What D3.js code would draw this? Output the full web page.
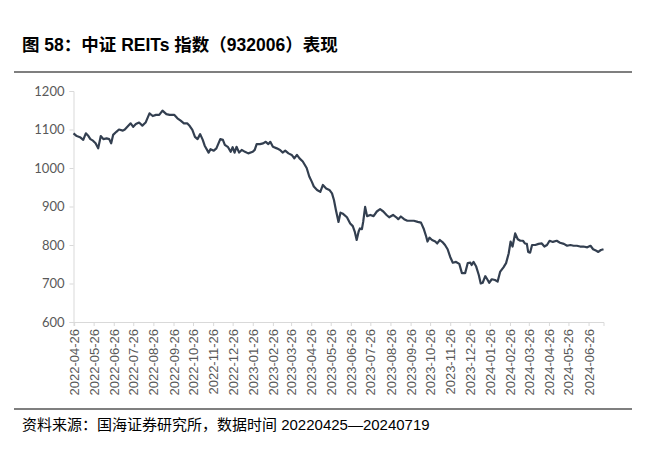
<!DOCTYPE html>
<html>
<head>
<meta charset="utf-8">
<script src="https://cdn.jsdelivr.net/npm/d3@7"></script>
<style>
  body { margin: 0; background: #fff; }
  svg { display: block; }
</style>
</head>
<body>
<svg id="chart" width="651" height="454"></svg>
<script>
// 中证REITs指数 (932006) values
const dates = [
  "2022-04-25","2022-04-30","2022-05-05","2022-05-10","2022-05-14","2022-05-18","2022-05-21","2022-05-25","2022-05-29",
  "2022-06-02","2022-06-06","2022-06-10","2022-06-15","2022-06-19","2022-06-22","2022-06-25","2022-06-30",
  "2022-07-04","2022-07-10","2022-07-13","2022-07-18","2022-07-22","2022-07-26","2022-07-30",
  "2022-08-04","2022-08-09","2022-08-14","2022-08-20","2022-08-25","2022-08-30",
  "2022-09-04","2022-09-09","2022-09-15","2022-09-20","2022-09-27",
  "2022-10-02","2022-10-07","2022-10-12","2022-10-17","2022-10-21","2022-10-25","2022-10-29",
  "2022-11-02","2022-11-06","2022-11-10","2022-11-13","2022-11-19","2022-11-22","2022-11-27",
  "2022-12-01","2022-12-07","2022-12-11","2022-12-14","2022-12-19","2022-12-23","2022-12-26","2022-12-29",
  "2023-01-01","2023-01-05","2023-01-09","2023-01-14","2023-01-19","2023-01-26","2023-01-29",
  "2023-02-01","2023-02-06","2023-02-11","2023-02-15","2023-02-19","2023-02-22","2023-02-26",
  "2023-03-04","2023-03-09","2023-03-13","2023-03-17","2023-03-22","2023-03-27","2023-03-31",
  "2023-04-04","2023-04-08","2023-04-13","2023-04-19","2023-04-23","2023-04-27","2023-04-30",
  "2023-05-05","2023-05-10","2023-05-14","2023-05-19","2023-05-24","2023-05-28","2023-05-31",
  "2023-06-03","2023-06-07","2023-06-10","2023-06-14","2023-06-20","2023-06-25","2023-06-29",
  "2023-07-02","2023-07-05","2023-07-08","2023-07-10","2023-07-13","2023-07-15","2023-07-18","2023-07-21","2023-07-26","2023-07-31",
  "2023-08-05","2023-08-10","2023-08-15","2023-08-20","2023-08-24","2023-08-30",
  "2023-09-04","2023-09-07","2023-09-11","2023-09-16","2023-09-21","2023-09-26",
  "2023-10-01","2023-10-07","2023-10-12","2023-10-16","2023-10-20","2023-10-22","2023-10-25","2023-10-29",
  "2023-11-03","2023-11-06","2023-11-10","2023-11-15","2023-11-18","2023-11-22","2023-11-26","2023-11-30",
  "2023-12-05","2023-12-10","2023-12-14","2023-12-19","2023-12-23","2023-12-27","2023-12-29",
  "2024-01-01","2024-01-05","2024-01-09","2024-01-12","2024-01-15","2024-01-19","2024-01-22","2024-01-25","2024-01-29",
  "2024-02-03","2024-02-07","2024-02-11","2024-02-16","2024-02-20","2024-02-24","2024-02-27",
  "2024-03-01","2024-03-05","2024-03-09","2024-03-13","2024-03-17","2024-03-20","2024-03-23","2024-03-25","2024-03-28","2024-03-31",
  "2024-04-05","2024-04-10","2024-04-15","2024-04-19","2024-04-23","2024-04-27",
  "2024-05-02","2024-05-08","2024-05-13","2024-05-19","2024-05-24","2024-05-29",
  "2024-06-03","2024-06-08","2024-06-13","2024-06-18","2024-06-24","2024-06-29",
  "2024-07-03","2024-07-08","2024-07-11","2024-07-15","2024-07-19"
];
const values = [
  1090,1083,1080,1073,1090,1083,1075,1071,1064,
  1051,1083,1075,1077,1075,1064,1086,1094,
  1100,1097,1100,1109,1116,1107,1114,
  1118,1110,1118,1142,1135,1138,
  1138,1149,1140,1138,1138,
  1129,1123,1116,1116,1109,1099,1081,
  1075,1088,1073,1058,1040,1049,1045,
  1051,1075,1073,1060,1054,1042,1054,1040,
  1055,1040,1047,1042,1038,1042,1047,
  1062,1062,1064,1068,1062,1068,1055,
  1051,1047,1040,1045,1038,1034,1025,
  1034,1025,1017,1000,978,964,952,
  943,938,956,947,943,934,917,
  891,860,884,881,872,856,849,
  835,813,835,843,841,860,899,875,878,875,
  887,893,887,878,872,878,
  872,867,874,867,863,863,
  863,860,858,843,822,809,819,813,
  809,804,813,806,800,789,769,754,
  756,751,727,727,753,754,748,
  756,744,722,700,702,719,711,702,711,
  709,705,731,742,753,778,809,
  796,830,815,811,811,804,803,782,780,800,
  800,803,804,796,800,811,
  808,811,806,803,798,800,
  798,798,796,796,794,798,
  789,785,782,787,789
];
const yTicks = [600, 700, 800, 900, 1000, 1100, 1200];
const tickDates = [
  "2022-04-26","2022-05-26","2022-06-26","2022-07-26","2022-08-26","2022-09-26","2022-10-26","2022-11-26","2022-12-26",
  "2023-01-26","2023-02-26","2023-03-26","2023-04-26","2023-05-26","2023-06-26","2023-07-26","2023-08-26","2023-09-26",
  "2023-10-26","2023-11-26","2023-12-26","2024-01-26","2024-02-26","2024-03-26","2024-04-26","2024-05-26","2024-06-26"
];
const titleText = "图 58：中证 REITs 指数（932006）表现";
const sourceText = "资料来源：国海证券研究所，数据时间 20220425—20240719";

const parse = d3.timeParse("%Y-%m-%d");
const data = dates.map((d, i) => ({ date: parse(d), val: values[i] }));

const svg = d3.select("#chart");
const cjk = "'Liberation Sans', Arial, 'Noto Sans CJK SC', sans-serif";

const x = d3.scaleTime()
  .domain([parse("2022-04-25"), parse("2024-07-19")])
  .range([73.5, 603.5]);

const y = d3.scaleLinear()
  .domain([600, 1200])
  .range([322, 91]);

// title + rules
svg.append("text")
  .attr("x", 22)
  .attr("y", 51)
  .attr("font-family", cjk)
  .attr("font-size", 17.5)
  .attr("font-weight", "bold")
  .attr("fill", "#000")
  .text(titleText);

svg.append("line")
  .attr("x1", 14).attr("x2", 632)
  .attr("y1", 72).attr("y2", 72)
  .attr("stroke", "#7f7f7f")
  .attr("stroke-width", 2);

svg.append("line")
  .attr("x1", 14).attr("x2", 632)
  .attr("y1", 409).attr("y2", 409)
  .attr("stroke", "#7f7f7f")
  .attr("stroke-width", 2);

svg.append("text")
  .attr("x", 22)
  .attr("y", 430)
  .attr("font-family", cjk)
  .attr("font-size", 15)
  .attr("fill", "#000")
  .text(sourceText);

// axes
const yAxis = d3.axisLeft(y)
  .tickValues(yTicks)
  .tickFormat(d3.format("d"))
  .tickSize(4)
  .tickPadding(5);
const gy = svg.append("g")
  .attr("transform", "translate(73.5,0)")
  .call(yAxis);
gy.selectAll("text")
  .attr("font-family", "Lato, 'Open Sans', sans-serif")
  .attr("font-size", 13)
  .attr("fill", "#595959");

const xAxis = d3.axisBottom(x)
  .tickValues(tickDates.map(parse))
  .tickFormat(d3.timeFormat("%Y-%m-%d"))
  .tickSize(4);
const gx = svg.append("g")
  .attr("transform", "translate(0,322)")
  .call(xAxis);
gx.selectAll("text")
  .attr("font-family", "'Liberation Sans', Arial, sans-serif")
  .attr("font-size", 13)
  .attr("fill", "#595959")
  .attr("transform", "rotate(-90)")
  .attr("x", -7)
  .attr("y", 0)
  .attr("dy", "0.35em")
  .style("text-anchor", "end");

svg.selectAll(".domain, .tick line").attr("stroke", "#d9d9d9");

// line
const line = d3.line()
  .x(d => x(d.date))
  .y(d => y(d.val));

svg.append("path")
  .datum(data)
  .attr("d", line)
  .attr("fill", "none")
  .attr("stroke", "#333f50")
  .attr("stroke-width", 2.2)
  .attr("stroke-linejoin", "round");
</script>
</body>
</html>
